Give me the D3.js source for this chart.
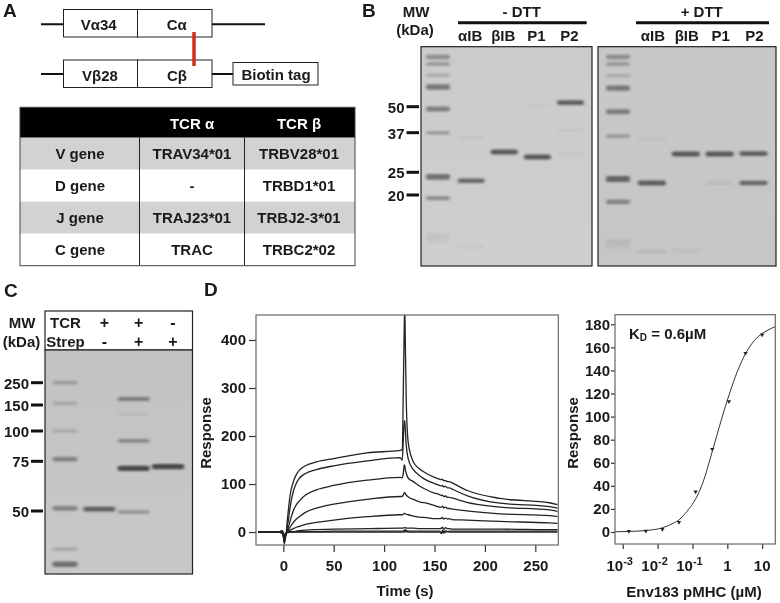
<!DOCTYPE html>
<html>
<head>
<meta charset="utf-8">
<script src="https://cdn.jsdelivr.net/npm/d3@7"></script>
<style>
  body { margin: 0; background: #fff; }
  svg { filter: blur(0.35px); }
  text { font-family: "Liberation Sans", Arial, sans-serif; font-weight: bold; fill: #1a1a1a; }
</style>
</head>
<body>
<div id="chart"></div>
<script>
// Panel A table
const tableHeader = ['', 'TCR α', 'TCR β'];
const tableRows = [
    ['V gene', 'TRAV34*01', 'TRBV28*01'],
    ['D gene', '-', 'TRBD1*01'],
    ['J gene', 'TRAJ23*01', 'TRBJ2-3*01'],
    ['C gene', 'TRAC', 'TRBC2*02']
];

// Gel lanes and bands: [lane, apparent kDa, density]
const lanesB = ['MW', 'αIB', 'βIB', 'P1', 'P2'];
const mwTicksB = [50, 37, 25, 20];
const bandsMinusDTT = [
    ['MW', 88.9, .4], ['MW', 82, .3], ['MW', 72, .22], ['MW', 62.8, .55], ['MW', 48.7, .5],
    ['MW', 36.9, .3], ['MW', 23.9, .6], ['MW', 19.4, .4],
    ['MW', 13.6, .07], ['MW', 13.1, .1], ['MW', 12.6, .07],
    ['αIB', 23, .65], ['αIB', 35.2, .06], ['αIB', 12, .07],
    ['βIB', 30.6, .75],
    ['P1', 29.1, .75], ['P1', 51, .04],
    ['P2', 52.4, .7], ['P2', 38, .05], ['P2', 30, .07]
];
const bandsPlusDTT = [
    ['MW', 88.9, .4], ['MW', 82, .3], ['MW', 71.6, .22], ['MW', 62, .55], ['MW', 47.2, .5],
    ['MW', 35.8, .3], ['MW', 23.4, .65], ['MW', 18.7, .45],
    ['MW', 12.8, .08], ['MW', 12.4, .12], ['MW', 11.9, .08],
    ['αIB', 22.5, .72], ['αIB', 34.7, .08], ['αIB', 11.5, .12],
    ['βIB', 30, .75], ['βIB', 11.6, .07],
    ['P1', 30, .75], ['P1', 22.5, .1],
    ['P2', 30.1, .7], ['P2', 22.5, .65]
];

const lanesC = ['MW', 'TCR', 'TCR+Strep', 'Strep'];
const mwTicksC = [250, 150, 100, 75, 50];
const tcrRow = ['+', '+', '-'];
const strepRow = ['-', '+', '+'];
const bandsC = [
    ['MW', 250, .28], ['MW', 156, .22], ['MW', 100, .2], ['MW', 76.6, .45], ['MW', 51.1, .45],
    ['MW', 36.6, .22], ['MW', 32.4, .6],
    ['TCR', 50.8, .7],
    ['TCR+Strep', 172, .5], ['TCR+Strep', 130, .06], ['TCR+Strep', 91, .42],
    ['TCR+Strep', 70.8, .85], ['TCR+Strep', 49.6, .35],
    ['Strep', 71.8, .85]
];

// Panel D sensorgrams
const timeS = [-25,-3,-2,-1,0,1,2,3,4,5,7,10,13,16,22,33,50,83,116,118,119,120,120.5,121,122,124,129,135,142,150,155,157,158,159,161,163,165,167,182,215,264,272];
const resp1 = [0,0,2,-2,-10,-22,-14,0,25,46,80,105,120,129,138,146,153,165,170,172,290,430,470,400,270,185,146,132,122,114,110,109,110,107,107,105,105,103,87,70,61,57];
const resp2 = [0,0,-2,3,-8,-25,-10,-3,12,25,55,85,102,112,122,130,138,148,155,150,190,232,230,215,180,152,130,118,108,101,97,96,97,94,95,92,92,90,76,60,53,50];
const resp3 = [0,0,1,-2,-6,-20,-8,-2,4,10,25,45,57,65,77,88,97,108,114,113,122,140,138,130,122,112,105,96,88,81,78,76,77,74,75,72,72,71,62,52,46,43];
const resp4 = [0,0,-1,2,-6,-16,-6,-2,1,4,11,20,27,32,41,50,58,68,74,74,77,82,82,80,77,73,68,63,60,55,52,52,54,50,52,49,49,48,44,38,34,32];
const resp5 = [0,0,2,-1,-5,-12,-4,-1,0,2,4,7,10,12,16,20,25,32,36,36,37,39,39,38,37,36,33,31,30,28,28,29,30,27,29,27,28,26,25,22,19,18];
const resp6 = [0,0,-1,2,-4,-9,-5,-2,-1,0,1,1,2,3,4,5,6,7,8,8,8,9,9,9,8,8,8,7,7,7,7,8,10,6,9,7,7,6,6,6,5,5];
const resp7 = [0,0,3,-2,-3,-7,-8,-3,-1,0,0,1,1,1,1,1,2,2,2,2,2,4,3,5,3,2,2,2,2,2,2,-2,4,0,3,1,2,2,2,2,2,2];
const resp8 = [0,0,-2,3,-2,-5,-8,-4,0,-1,0,0,0,0,0,0,0,0,0,0,0,1,0,2,1,0,0,0,0,0,0,-3,2,-2,0,1,0,0,0,0,0,0];
const sensorgrams = [resp1, resp2, resp3, resp4, resp5, resp6, resp7, resp8];

// Panel D binding curve
const pmhcConc = [0.0015, 0.0046, 0.0137, 0.041, 0.123, 0.37, 1.11, 3.33, 10];
const pmhcResp = [0.6, 0.9, 2.3, 8.4, 34.9, 71.8, 113, 155, 171];
const fitConc = [0.0006, 0.0016, 0.0047, 0.014, 0.03, 0.041, 0.07, 0.125, 0.2, 0.38, 0.6, 1.1, 2, 3.4, 6, 10, 17, 23.8];
const fitResp = [0.2, 0.5, 1.3, 3.7, 8, 10.5, 18, 29, 43, 71, 92, 118, 140, 155, 166, 172, 176, 178];

const width = 780;
const height = 603;

const svg = d3.select('#chart')
    .append('svg')
    .attr('width', width)
    .attr('height', height)
    .style('display', 'block');

// Blur for the gel bands
const defs = svg.append('defs');
defs.append('filter').attr('id', 'bandBlur')
    .attr('x', '-20%').attr('y', '-200%').attr('width', '140%').attr('height', '500%')
    .append('feGaussianBlur').attr('stdDeviation', '1.6 1.2');

// Helper for centred labels
function label(parent, x, y, txt, size = 15, anchor = 'middle') {
    return parent.append('text')
        .attr('x', x)
        .attr('y', y)
        .attr('text-anchor', anchor)
        .attr('dominant-baseline', 'central')
        .attr('font-size', size)
        .text(txt);
}

// Panel letters
label(svg, 3, 10.5, 'A', 19, 'start');
label(svg, 362, 10, 'B', 19, 'start');
label(svg, 4, 290, 'C', 19, 'start');
label(svg, 204, 289, 'D', 19, 'start');

// ---- Panel A gene diagram ----
function geneLine(x1, x2, y) {
    svg.append('line')
        .attr('x1', x1).attr('x2', x2).attr('y1', y).attr('y2', y)
        .attr('stroke', '#111').attr('stroke-width', 2);
}
function geneBox(x, y, w, h) {
    svg.append('rect')
        .attr('x', x).attr('y', y).attr('width', w).attr('height', h)
        .attr('fill', '#fff').attr('stroke', '#222').attr('stroke-width', 1);
}
geneLine(41, 265, 24.3);
geneLine(41, 233, 74);
geneBox(63.5, 9.5, 74, 27.5);
geneBox(137.5, 9.5, 74.5, 27.5);
geneBox(63.5, 60, 74, 27.5);
geneBox(137.5, 60, 74.5, 27.5);
geneBox(233, 62.5, 85, 22.5);
label(svg, 98.7, 24.5, 'Vα34');
label(svg, 176.7, 24.5, 'Cα');
label(svg, 100, 75, 'Vβ28');
label(svg, 177, 75, 'Cβ');
label(svg, 276, 74.5, 'Biotin tag');
svg.append('line')
    .attr('x1', 194).attr('x2', 194).attr('y1', 32).attr('y2', 66)
    .attr('stroke', '#d2311a').attr('stroke-width', 3.5);

// ---- Panel A table ----
const tableX = d3.scaleOrdinal().domain([0, 1, 2]).range([80, 192, 299]);
const rowY = d3.scaleBand().domain(d3.range(tableRows.length)).range([137.7, 265.7]);
const tableG = svg.append('g');
tableG.append('rect').attr('x', 20).attr('y', 107.3).attr('width', 335).attr('height', 30.4).attr('fill', '#000');
tableG.selectAll('rect.row')
    .data(tableRows)
    .join('rect')
    .attr('class', 'row')
    .attr('x', 20)
    .attr('y', (d, i) => rowY(i))
    .attr('width', 335)
    .attr('height', rowY.bandwidth())
    .attr('fill', (d, i) => i % 2 === 0 ? '#d2d2d2' : '#fff');
[139.5, 244.5].forEach(x => {
    tableG.append('line').attr('x1', x).attr('x2', x).attr('y1', 137.7).attr('y2', 265.7)
        .attr('stroke', '#222').attr('stroke-width', 1);
});
tableG.append('rect').attr('x', 20).attr('y', 107.3).attr('width', 335).attr('height', 158.4)
    .attr('fill', 'none').attr('stroke', '#444').attr('stroke-width', 1);
tableHeader.forEach((h, i) => {
    label(tableG, tableX(i), 123, h).style('fill', '#fff');
});
tableRows.forEach((row, r) => {
    row.forEach((cell, i) => {
        label(tableG, tableX(i), rowY(r) + rowY.bandwidth() / 2, cell);
    });
});

// ---- Gels ----
function drawGel(x, y, w, h, colorTop, colorBottom, id) {
    const grad = defs.append('linearGradient').attr('id', id).attr('x1', 0).attr('x2', 0).attr('y1', 0).attr('y2', 1);
    grad.append('stop').attr('offset', '0%').attr('stop-color', colorTop);
    grad.append('stop').attr('offset', '100%').attr('stop-color', colorBottom);
    const clip = defs.append('clipPath').attr('id', id + 'Clip');
    clip.append('rect').attr('x', x).attr('y', y).attr('width', w).attr('height', h);
    const g = svg.append('g');
    g.append('rect').attr('x', x).attr('y', y).attr('width', w).attr('height', h).attr('fill', `url(#${id})`);
    const bands = g.append('g').attr('clip-path', `url(#${id}Clip)`);
    g.append('rect').attr('x', x).attr('y', y).attr('width', w).attr('height', h)
        .attr('fill', 'none').attr('stroke', '#222').attr('stroke-width', 1.2);
    return bands;
}

function drawBands(g, bands, laneScale, mwScale, ladderWidth, sampleWidth) {
    g.selectAll('rect.band')
        .data(bands)
        .join('rect')
        .attr('class', 'band')
        .attr('x', d => laneScale(d[0]) - (d[0] === 'MW' ? ladderWidth : sampleWidth) / 2)
        .attr('width', d => d[0] === 'MW' ? ladderWidth : sampleWidth)
        .attr('y', d => mwScale(d[1]) - (d[0] === 'MW' ? 1 + 3 * d[2] : 1 + 2 * d[2]))
        .attr('height', d => d[0] === 'MW' ? 2 + 6 * d[2] : 2 + 4 * d[2])
        .attr('rx', 2)
        .attr('fill', '#333')
        .attr('fill-opacity', d => d[2])
        .attr('filter', 'url(#bandBlur)');
}

function mwTicks(ticks, scale, x1, x2) {
    const g = svg.append('g');
    ticks.forEach(t => {
        g.append('line').attr('x1', x1).attr('x2', x2).attr('y1', scale(t)).attr('y2', scale(t))
            .attr('stroke', '#111').attr('stroke-width', 3);
        label(g, x1 - 2, scale(t) + 0.5, t, 15, 'end');
    });
}

// Panel B
const mwScaleB = d3.scaleLog().domain([50, 37, 25, 20]).range([106.7, 132.7, 172.3, 195]);
const laneMinus = d3.scalePoint().domain(lanesB).range([438, 570.5]);
const lanePlus = d3.scalePoint().domain(lanesB).range([618, 753.5]);

const gelMinus = drawGel(421, 46.7, 171, 219.3, '#cbcbcb', '#cfcfcf', 'gelB1');
drawBands(gelMinus, bandsMinusDTT, laneMinus, mwScaleB, 24, 27);
const gelPlus = drawGel(598, 46.7, 178, 219.3, '#c8c8c8', '#c6c6c6', 'gelB2');
drawBands(gelPlus, bandsPlusDTT, lanePlus, mwScaleB, 24, 28);
mwTicks(mwTicksB, mwScaleB, 406.5, 419);

label(svg, 416, 11, 'MW');
label(svg, 415, 29.5, '(kDa)');
label(svg, 521.7, 11, '- DTT');
label(svg, 701.7, 11, '+ DTT');
[[458, 586.7], [636, 769]].forEach(([a, b]) => {
    svg.append('line').attr('x1', a).attr('x2', b).attr('y1', 22.7).attr('y2', 22.7)
        .attr('stroke', '#111').attr('stroke-width', 3);
});
lanesB.slice(1).forEach(l => {
    label(svg, laneMinus(l) - 1, 35.7, l);
    label(svg, lanePlus(l) + 1, 35.7, l);
});

// Panel C
const mwScaleC = d3.scaleLog().domain(mwTicksC).range([382.7, 405, 431, 461.3, 511]);
const laneC = d3.scalePoint().domain(lanesC).range([65, 168]);

svg.append('rect').attr('x', 45).attr('y', 311).attr('width', 147.5).attr('height', 39)
    .attr('fill', '#fff').attr('stroke', '#222').attr('stroke-width', 1.2);
const gelC = drawGel(45, 350, 147.5, 224, '#c2c2c2', '#c8c8c8', 'gelC');
drawBands(gelC, bandsC, laneC, mwScaleC, 25, 32);
mwTicks(mwTicksC, mwScaleC, 31, 43);

label(svg, 22, 322, 'MW');
label(svg, 21.5, 341, '(kDa)');
label(svg, 65.5, 322, 'TCR');
label(svg, 65.5, 341, 'Strep');
lanesC.slice(1).forEach((l, i) => {
    label(svg, laneC(l) + 5, 322, tcrRow[i], 16);
    label(svg, laneC(l) + 5, 341, strepRow[i], 16);
});

// ---- Panel D sensorgrams ----
const xTime = d3.scaleLinear().domain([-27.1, 272.8]).range([256, 558.3]);
const yResp = d3.scaleLinear().domain([-27, 452]).range([545, 315]);

defs.append('clipPath').attr('id', 'plotClip')
    .append('rect').attr('x', 256).attr('y', 315).attr('width', 302.3).attr('height', 230);

const sensorLine = d3.line()
    .x((d, i) => xTime(timeS[i]))
    .y(d => yResp(d))
    .curve(d3.curveMonotoneX);

svg.append('g')
    .attr('clip-path', 'url(#plotClip)')
    .selectAll('path')
    .data(sensorgrams)
    .join('path')
    .attr('d', sensorLine)
    .attr('fill', 'none')
    .attr('stroke', '#222')
    .attr('stroke-width', 1.3);

function styleAxis(g) {
    g.select('.domain').remove();
    g.selectAll('.tick line').attr('stroke', '#333').attr('stroke-width', 1.2);
    g.selectAll('.tick text').attr('font-size', 15).attr('font-family', '"Liberation Sans", Arial, sans-serif').style('fill', '#1a1a1a');
}

svg.append('g')
    .attr('transform', 'translate(0,545)')
    .call(d3.axisBottom(xTime).tickValues([0, 50, 100, 150, 200, 250]).tickSize(7).tickPadding(8))
    .call(styleAxis);
svg.append('g')
    .attr('transform', 'translate(256,0)')
    .call(d3.axisLeft(yResp).tickValues([0, 100, 200, 300, 400]).tickSize(7).tickPadding(3))
    .call(styleAxis);
svg.append('rect').attr('x', 256).attr('y', 315).attr('width', 302.3).attr('height', 230)
    .attr('fill', 'none').attr('stroke', '#666').attr('stroke-width', 1.2);

label(svg, 405, 590.5, 'Time (s)');
label(svg, 0, 0, 'Response').attr('transform', 'translate(205,433) rotate(-90)');

// ---- Panel D binding curve ----
const xConc = d3.scaleLog().domain([0.0006, 23.8]).range([615, 775.3]);
const yBind = d3.scaleLinear().domain([-10.4, 188.3]).range([544, 314.7]);

const fitLine = d3.line()
    .x((d, i) => xConc(fitConc[i]))
    .y(d => yBind(d))
    .curve(d3.curveMonotoneX);

svg.append('path')
    .datum(fitResp)
    .attr('d', fitLine)
    .attr('fill', 'none')
    .attr('stroke', '#333')
    .attr('stroke-width', 1);

svg.append('g')
    .selectAll('path')
    .data(pmhcResp)
    .join('path')
    .attr('d', d3.symbol(d3.symbolTriangle, 8))
    .attr('transform', (d, i) => `translate(${xConc(pmhcConc[i])},${yBind(d)}) rotate(180)`)
    .attr('fill', '#222');

const concTicks = [0.001, 0.01, 0.1, 1, 10];
const concLabels = [['10', '-3'], ['10', '-2'], ['10', '-1'], ['1', ''], ['10', '']];

svg.append('g')
    .attr('transform', 'translate(0,544)')
    .call(d3.axisBottom(xConc).tickValues(concTicks).tickSize(5).tickFormat('').tickPadding(0))
    .call(styleAxis);
concTicks.forEach((c, i) => {
    const t = label(svg, xConc(c) + (concLabels[i][1] ? -3 : 0), 565.5, concLabels[i][0]);
    if (concLabels[i][1]) {
        t.append('tspan').attr('font-size', 11).attr('dy', -5).text(concLabels[i][1]);
    }
});
svg.append('g')
    .attr('transform', 'translate(615,0)')
    .call(d3.axisLeft(yBind).tickValues(d3.range(0, 181, 20)).tickSize(4).tickPadding(1))
    .call(styleAxis);
svg.append('rect').attr('x', 615).attr('y', 314.7).attr('width', 160.3).attr('height', 229.3)
    .attr('fill', 'none').attr('stroke', '#666').attr('stroke-width', 1.2);

const kd = label(svg, 629, 333, 'K', 15, 'start');
kd.append('tspan').attr('font-size', 10).attr('dy', 4).text('D');
kd.append('tspan').attr('dy', -4).text(' = 0.6µM');

label(svg, 694, 591, 'Env183 pMHC (µM)');
label(svg, 0, 0, 'Response').attr('transform', 'translate(572.7,433) rotate(-90)');
</script>
</body>
</html>
